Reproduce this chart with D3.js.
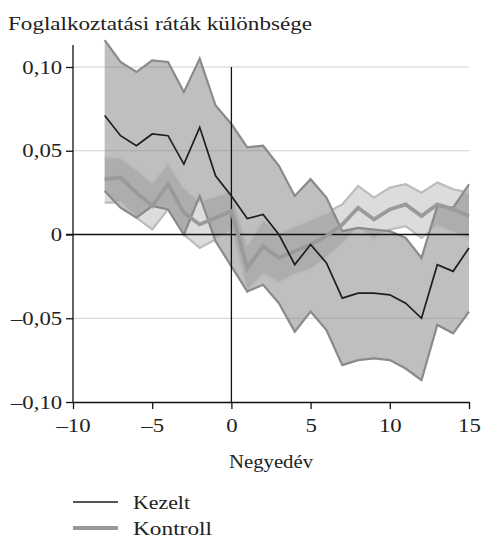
<!DOCTYPE html>
<html>
<head>
<meta charset="utf-8">
<script src="https://cdn.jsdelivr.net/npm/d3@7"></script>
<style>
  body { margin: 0; background: #fff; }
</style>
</head>
<body>
<svg id="chart" width="481" height="542"></svg>
<script>
/* ------------------------------- data -------------------------------- */
const quarters = [-8, -7, -6, -5, -4, -3, -2, -1, 0, 1, 2, 3, 4, 5, 6, 7, 8, 9, 10, 11, 12, 13, 14, 15];

const treated      = [0.071, 0.059, 0.053, 0.060, 0.059, 0.042, 0.064, 0.035, 0.023, 0.0095, 0.012, 0.000,
                      -0.018, -0.006, -0.017, -0.038, -0.035, -0.035, -0.036, -0.041, -0.050, -0.018, -0.022, -0.008];
const treatedUpper = [0.116, 0.103, 0.097, 0.104, 0.103, 0.085, 0.105, 0.077, 0.066, 0.052, 0.053, 0.041,
                      0.023, 0.033, 0.022, 0.002, 0.004, 0.003, 0.002, -0.002, -0.014, 0.017, 0.016, 0.030];
const treatedLower = [0.026, 0.016, 0.010, 0.017, 0.015, 0.000, 0.023, -0.004, -0.019, -0.034, -0.030, -0.041,
                      -0.058, -0.046, -0.057, -0.078, -0.075, -0.074, -0.075, -0.080, -0.087, -0.054, -0.059, -0.046];

const control      = [0.033, 0.034, 0.025, 0.017, 0.030, 0.013, 0.006, 0.010, 0.014, -0.020, -0.007, -0.014,
                      -0.010, -0.006, -0.001, 0.006, 0.016, 0.009, 0.015, 0.018, 0.011, 0.018, 0.015, 0.011];
const controlUpper = [0.046, 0.046, 0.039, 0.031, 0.043, 0.028, 0.020, 0.023, 0.026, -0.006, 0.009, 0.001,
                      0.005, 0.009, 0.013, 0.018, 0.029, 0.022, 0.028, 0.030, 0.025, 0.031, 0.027, 0.025];
const controlLower = [0.019, 0.019, 0.010, 0.003, 0.015, 0.000, -0.008, -0.003, 0.002, -0.034, -0.024, -0.029,
                      -0.024, -0.021, -0.014, -0.006, 0.004, -0.003, 0.003, 0.005, -0.002, 0.005, 0.001, -0.003];

const xTicks = [-10, -5, 0, 5, 10, 15];
const yTicks = [-0.10, -0.05, 0, 0.05, 0.10];
const gridTicks = [-0.05, 0.05, 0.10];

const TITLE   = 'Foglalkoztatási ráták különbsége';
const X_LABEL = 'Negyedév';
const legendItems = ['Kezelt', 'Kontroll'];

/* ------------------------------- setup ------------------------------- */
const FONT = '"Liberation Serif", "Times New Roman", serif';
const SX = 1.2;   // the reference type is set a little wide
const svg = d3.select('#chart');
const X0 = 73, X1 = 469, Y_TOP = 67, Y_BOT = 402;

const xScale = d3.scaleLinear().domain([-10, 15]).range([X0, X1]);
const yScale = d3.scaleLinear().domain([-0.10, 0.10]).range([Y_BOT, Y_TOP]);

const fmt  = v => v === 0 ? '0' : (v < 0 ? '\u2013' : '') + Math.abs(v).toFixed(2).replace('.', ',');
const fmtX = v => (v < 0 ? '\u2013' : '') + Math.abs(v);

const rows = quarters.map((q, i) => ({
  q, t: treated[i], tu: treatedUpper[i], tl: treatedLower[i],
  c: control[i], cu: controlUpper[i], cl: controlLower[i]
}));

function label(x, y, str, width, anchor = 'start') {
  return svg.append('text')
    .attr('x', x).attr('y', y)
    .attr('text-anchor', anchor)
    .attr('textLength', width).attr('lengthAdjust', 'spacingAndGlyphs')
    .style('font-family', FONT).style('font-size', '19.5px').attr('fill', '#222')
    .text(str);
}

// title
label(8, 30, TITLE, 304);

// grid
svg.append('g').selectAll('line')
  .data(gridTicks)
  .join('line')
  .attr('x1', X0).attr('x2', X1)
  .attr('y1', d => yScale(d)).attr('y2', d => yScale(d))
  .attr('stroke', '#cfcfcf').attr('stroke-width', 1.2);

/* ------------------------------- bands ------------------------------- */
const area = (lo, hi) => d3.area()
  .x(d => xScale(d.q))
  .y0(d => yScale(d[lo]))
  .y1(d => yScale(d[hi]));
const line = key => d3.line().x(d => xScale(d.q)).y(d => yScale(d[key]));

svg.append('path').datum(rows)
  .attr('d', area('tl', 'tu'))
  .attr('fill', '#7f7f7f').attr('fill-opacity', 0.5);
svg.append('path').datum(rows)
  .attr('d', area('cl', 'cu'))
  .attr('fill', '#7f7f7f').attr('fill-opacity', 0.27);

['cu', 'cl'].forEach(k => {
  svg.append('path').datum(rows)
    .attr('d', line(k))
    .attr('fill', 'none').attr('stroke', '#bcbcbc').attr('stroke-width', 2.2);
});
['tu', 'tl'].forEach(k => {
  svg.append('path').datum(rows)
    .attr('d', line(k))
    .attr('fill', 'none').attr('stroke', '#8a8a8a').attr('stroke-width', 2.2);
});

/* ------------------------------- axes -------------------------------- */
// zero line + vertical line at 0
svg.append('line')
  .attr('x1', X0 - 7).attr('x2', X1)
  .attr('y1', yScale(0)).attr('y2', yScale(0))
  .attr('stroke', '#111').attr('stroke-width', 1.3);
svg.append('line')
  .attr('x1', xScale(0)).attr('x2', xScale(0))
  .attr('y1', Y_TOP).attr('y2', Y_BOT)
  .attr('stroke', '#111').attr('stroke-width', 1.3);

// series lines
svg.append('path').datum(rows)
  .attr('d', line('c'))
  .attr('fill', 'none').attr('stroke', '#9a9a9a').attr('stroke-width', 3.8);
svg.append('path').datum(rows)
  .attr('d', line('t'))
  .attr('fill', 'none').attr('stroke', '#1e1e1e').attr('stroke-width', 1.7);

const yAxisG = svg.append('g')
  .attr('transform', `translate(${X0},0)`)
  .call(d3.axisLeft(yScale).tickValues(yTicks).tickFormat(fmt).tickSize(7).tickSizeOuter(0).tickPadding(2));
yAxisG.select('.domain').attr('d', `M0,${Y_BOT}V45`);

const xAxisG = svg.append('g')
  .attr('transform', `translate(0,${Y_BOT})`)
  .call(d3.axisBottom(xScale).tickValues(xTicks).tickFormat(fmtX).tickSize(7).tickSizeOuter(0).tickPadding(10));

[yAxisG, xAxisG].forEach(g => {
  g.attr('font-family', null).attr('font-size', null);
  g.select('.domain').attr('stroke', '#111').attr('stroke-width', 1.3);
  g.selectAll('.tick line').attr('stroke', '#111').attr('stroke-width', 1.3);
  g.selectAll('.tick text')
    .attr('transform', `scale(${SX},1)`)
    .style('font-family', FONT)
    .style('font-size', '19px').attr('fill', '#222');
});

label((X0 + X1) / 2, 468, X_LABEL, 84, 'middle');

/* ------------------------------- legend ------------------------------ */
const legendW = [57, 79];
legendItems.forEach((name, i) => {
  const y = 502 + i * 26;
  svg.append('line')
    .attr('x1', 73).attr('x2', 118).attr('y1', y).attr('y2', y)
    .attr('stroke', i === 0 ? '#1e1e1e' : '#9a9a9a')
    .attr('stroke-width', i === 0 ? 1.7 : 3.8);
  label(133, y + 7, name, legendW[i]);
});
</script>
</body>
</html>
